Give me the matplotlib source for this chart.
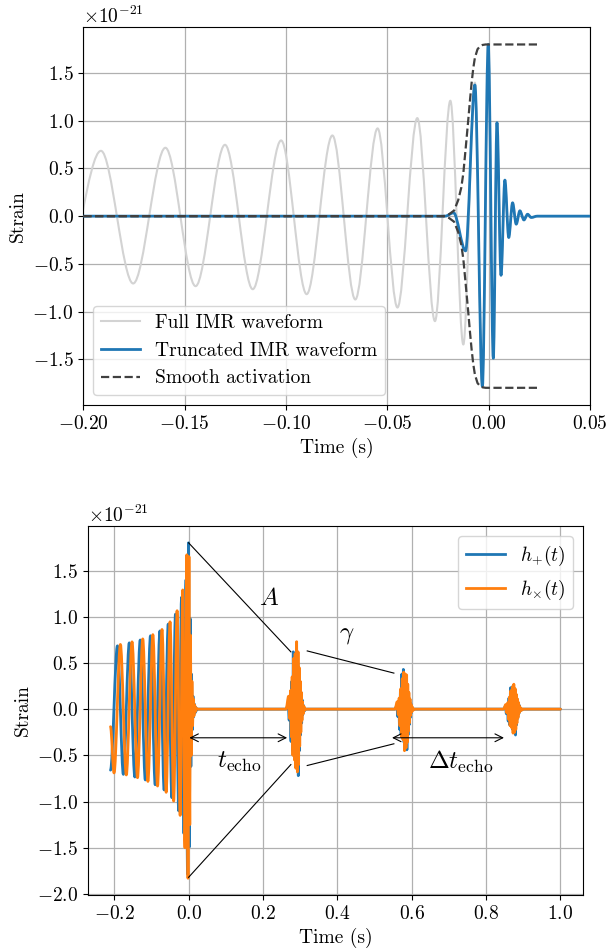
import numpy as np
import matplotlib
matplotlib.use('Agg')
import matplotlib.pyplot as plt
from matplotlib.path import Path
from matplotlib.patches import PathPatch
from matplotlib.lines import Line2D

plt.rcParams.update({
    'font.family': 'serif',
    'font.serif': ['cmr10'],
    'mathtext.fontset': 'cm',
    'axes.formatter.use_mathtext': True,
    'font.size': 14,
})

SCALE = 1e-21

# ---------------- data (strain in units of 1e-21, time in s) ----------------
# Full IMR waveform h+ : successive extrema
hp_main_t = [-0.2100, -0.1913, -0.1754, -0.1595, -0.1446, -0.1301, -0.1164, -0.1024,
             -0.0898, -0.0771, -0.0658, -0.0548, -0.0450, -0.0352, -0.0265, -0.0189,
             -0.0125, -0.0068, -0.0031, -0.0002, 0.0023, 0.0041, 0.0061, 0.0080,
             0.0099, 0.0118, 0.0136, 0.0154, 0.0174, 0.0192, 0.0210, 0.0240]
hp_main_v = [-0.66, 0.685, -0.706, 0.717, -0.734, 0.748, -0.766, 0.794,
             -0.818, 0.846, -0.874, 0.920, -0.958, 1.028, -1.101, 1.210,
             -1.346, 1.400, -1.784, 1.800, -1.490, 0.980, -0.620, 0.378,
             -0.224, 0.140, -0.084, 0.056, -0.040, 0.020, -0.014, 0.000]

# h_x : successive extrema
hx_main_t = [-0.2100, -0.2005, -0.1834, -0.1675, -0.1521, -0.1374, -0.1233, -0.1094,
             -0.0961, -0.0835, -0.0715, -0.0603, -0.0499, -0.0401, -0.0309, -0.0227,
             -0.0157, -0.0097, -0.0048, -0.0016, 0.0010, 0.0032, 0.0051, 0.0070,
             0.0090, 0.0108, 0.0127, 0.0145, 0.0164, 0.0183, 0.0201, 0.0240]
hx_main_v = [-0.19, -0.690, 0.700, -0.712, 0.728, -0.742, 0.760, -0.782,
             0.806, -0.832, 0.862, -0.900, 0.945, -0.995, 1.065, -1.150,
             1.290, -1.500, 1.670, -1.830, 1.650, -1.250, 0.800, -0.500,
             0.300, -0.180, 0.110, -0.070, 0.045, -0.025, 0.012, 0.000]

# Truncated IMR waveform (top panel)
tr_t = [-0.2000, -0.0215, -0.0173, -0.0114, -0.0068, -0.0031, -0.0002, 0.0023,
        0.0041, 0.0061, 0.0080, 0.0099, 0.0118, 0.0136, 0.0154, 0.0174,
        0.0192, 0.0210, 0.0240, 0.0500]
tr_v = [0.0, 0.0, 0.035, -0.364, 1.375, -1.784, 1.800, -1.490,
        0.980, -0.620, 0.378, -0.224, 0.140, -0.084, 0.056, -0.040,
        0.020, -0.014, 0.0, 0.0]

# Smooth activation envelope
act_t = [-0.2000, -0.0224, -0.0195, -0.0170, -0.0150, -0.0135, -0.0125, -0.0113,
         -0.0101, -0.0092, -0.0084, -0.0076, -0.0068, -0.0055, -0.0043, -0.0030,
         -0.0015, 0.0000, 0.0250]
act_v = [0.0, 0.0, 0.02, 0.06, 0.17, 0.30, 0.45, 0.72,
         1.00, 1.22, 1.40, 1.55, 1.66, 1.75, 1.78, 1.795,
         1.80, 1.80, 1.80]

# Echoes (extrema)
e1p_t = [0.2620, 0.2680, 0.2705, 0.2730, 0.2755, 0.2775, 0.2795, 0.2815, 0.2835, 0.2855,
         0.2875, 0.2895, 0.2915, 0.2935, 0.2950, 0.2965, 0.2980, 0.2995, 0.3010, 0.3025,
         0.3040, 0.3055, 0.3070, 0.3090, 0.3110, 0.3140]
e1p_v = [0.00, 0.05, -0.12, 0.12, -0.35, 0.30, -0.45, 0.62, -0.50, 0.55,
         -0.60, 0.58, -0.62, 0.50, -0.72, 0.40, -0.45, 0.30, -0.28, 0.18,
         -0.15, 0.10, -0.06, 0.04, -0.02, 0.00]
e1x_t = [0.2620, 0.2690, 0.2718, 0.2742, 0.2765, 0.2785, 0.2805, 0.2825, 0.2845, 0.2865,
         0.2885, 0.2905, 0.2925, 0.2943, 0.2958, 0.2973, 0.2988, 0.3003, 0.3018, 0.3033,
         0.3048, 0.3063, 0.3080, 0.3100, 0.3125, 0.3150]
e1x_v = [0.00, 0.14, -0.10, 0.20, -0.30, 0.35, -0.50, 0.55, -0.55, 0.60,
         -0.64, 0.73, -0.68, 0.62, -0.60, 0.45, -0.40, 0.30, -0.25, 0.18,
         -0.12, 0.08, -0.05, 0.03, -0.01, 0.00]

e2p_t = [0.5550, 0.5600, 0.5625, 0.5650, 0.5675, 0.5695, 0.5715, 0.5735, 0.5755, 0.5775,
         0.5795, 0.5815, 0.5835, 0.5855, 0.5870, 0.5885, 0.5900, 0.5915, 0.5930, 0.5945,
         0.5960, 0.5975, 0.5990, 0.6010, 0.6030, 0.6060]
e2p_v = [0.00, 0.04, -0.08, 0.08, -0.22, 0.20, -0.28, 0.38, -0.30, 0.43,
         -0.36, 0.35, -0.40, 0.30, -0.44, 0.25, -0.28, 0.18, -0.17, 0.11,
         -0.09, 0.06, -0.04, 0.02, -0.01, 0.00]
e2x_t = [0.5550, 0.5610, 0.5638, 0.5662, 0.5685, 0.5705, 0.5725, 0.5745, 0.5765, 0.5785,
         0.5805, 0.5825, 0.5845, 0.5863, 0.5878, 0.5893, 0.5908, 0.5923, 0.5938, 0.5953,
         0.5968, 0.5983, 0.6000, 0.6020, 0.6045, 0.6070]
e2x_v = [0.00, 0.08, -0.06, 0.12, -0.18, 0.22, -0.30, 0.33, -0.33, 0.40,
         -0.45, 0.38, -0.42, 0.37, -0.36, 0.27, -0.24, 0.18, -0.15, 0.11,
         -0.07, 0.05, -0.03, 0.02, -0.01, 0.00]

e3p_t = [0.8470, 0.8520, 0.8545, 0.8570, 0.8595, 0.8615, 0.8635, 0.8655, 0.8675, 0.8695,
         0.8715, 0.8735, 0.8755, 0.8775, 0.8790, 0.8805, 0.8820, 0.8835, 0.8850, 0.8865,
         0.8880, 0.8895, 0.8910, 0.8930, 0.8950, 0.8980]
e3p_v = [0.00, 0.03, -0.05, 0.05, -0.13, 0.12, -0.17, 0.23, -0.19, 0.24,
         -0.22, 0.22, -0.24, 0.19, -0.28, 0.15, -0.17, 0.11, -0.10, 0.07,
         -0.05, 0.04, -0.02, 0.01, -0.01, 0.00]
e3x_t = [0.8470, 0.8530, 0.8558, 0.8582, 0.8605, 0.8625, 0.8645, 0.8665, 0.8685, 0.8705,
         0.8725, 0.8745, 0.8765, 0.8783, 0.8798, 0.8813, 0.8828, 0.8843, 0.8858, 0.8873,
         0.8888, 0.8903, 0.8920, 0.8940, 0.8965, 0.8990]
e3x_v = [0.00, 0.05, -0.04, 0.07, -0.11, 0.13, -0.18, 0.20, -0.20, 0.24,
         -0.26, 0.27, -0.25, 0.22, -0.22, 0.16, -0.15, 0.11, -0.09, 0.07,
         -0.04, 0.03, -0.02, 0.01, -0.01, 0.00]

t_end = [1.0]
v_end = [0.0]

# annotation geometry (data coordinates)
A_line_t = [0.000, 0.275]
A_upper_v = [1.80, 0.62]
A_lower_v = [-1.82, -0.60]
g_line_t = [0.319, 0.552]
g_upper_v = [0.63, 0.39]
g_lower_v = [-0.61, -0.375]
techo_arrow_t = [0.002, 0.265]
dtecho_arrow_t = [0.547, 0.848]
arrow_v = -0.31


# ---------------- helpers ----------------
def smooth_path(t, v, k=1.0 / 3.0):
    """Cubic Bezier path through extrema with horizontal tangents."""
    v = [x * SCALE for x in v]
    verts = [(t[0], v[0])]
    codes = [Path.MOVETO]
    for i in range(len(t) - 1):
        dt = t[i + 1] - t[i]
        verts += [(t[i] + k * dt, v[i]), (t[i + 1] - k * dt, v[i + 1]), (t[i + 1], v[i + 1])]
        codes += [Path.CURVE4] * 3
    return Path(verts, codes)


def add_wave(ax, t, v, color, lw, zorder):
    patch = PathPatch(smooth_path(t, v), facecolor='none', edgecolor=color,
                      lw=lw, zorder=zorder, joinstyle='round', capstyle='round')
    ax.add_patch(patch)
    return patch


fig = plt.figure(figsize=(6.09, 9.48), dpi=100)

# ---------------- top panel ----------------
ax1 = fig.add_axes([0.1368, 0.5728, 0.8320, 0.3984])
full_t = hp_main_t + [0.0500]
full_v = hp_main_v + [0.0]
add_wave(ax1, full_t, full_v, '#d3d3d3', 1.5, 2)
add_wave(ax1, tr_t, tr_v, '#1f77b4', 2.0, 3)
ax1.plot(act_t, [a * SCALE for a in act_v], ls='--', color='#404040', lw=1.6, zorder=4)
ax1.plot(act_t, [-a * SCALE for a in act_v], ls='--', color='#404040', lw=1.6, zorder=4)
ax1.set_xlim(-0.2, 0.05)
ax1.autoscale_view(scalex=False, scaley=True)
ax1.grid(True, color='#b0b0b0', lw=0.9)
ax1.set_axisbelow(True)
ax1.set_xlabel('Time (s)')
ax1.set_ylabel('Strain')
handles1 = [Line2D([], [], color='#d3d3d3', lw=1.5),
            Line2D([], [], color='#1f77b4', lw=2.0),
            Line2D([], [], color='#404040', lw=1.6, ls='--')]
ax1.legend(handles1, ['Full IMR waveform', 'Truncated IMR waveform', 'Smooth activation'],
           loc='lower left', fontsize=14)

# ---------------- bottom panel ----------------
ax2 = fig.add_axes([0.1445, 0.0559, 0.8128, 0.3892])
hp_t = hp_main_t + e1p_t + e2p_t + e3p_t + t_end
hp_v = hp_main_v + e1p_v + e2p_v + e3p_v + v_end
hx_t = hx_main_t + e1x_t + e2x_t + e3x_t + t_end
hx_v = hx_main_v + e1x_v + e2x_v + e3x_v + v_end
add_wave(ax2, hp_t, hp_v, '#1f77b4', 2.0, 2)
add_wave(ax2, hx_t, hx_v, '#ff7f0e', 2.0, 3)
ax2.autoscale_view()
ax2.grid(True, color='#b0b0b0', lw=0.9)
ax2.set_axisbelow(True)
ax2.set_xlabel('Time (s)')
ax2.set_ylabel('Strain')

lk = dict(color='k', lw=0.8, zorder=5)
ax2.plot(A_line_t, [a * SCALE for a in A_upper_v], **lk)
ax2.plot(A_line_t, [a * SCALE for a in A_lower_v], **lk)
ax2.plot(g_line_t, [a * SCALE for a in g_upper_v], **lk)
ax2.plot(g_line_t, [a * SCALE for a in g_lower_v], **lk)
ap = dict(arrowstyle='<->', color='k', lw=0.8, shrinkA=0, shrinkB=0)
ax2.annotate('', xy=(techo_arrow_t[1], arrow_v * SCALE), xytext=(techo_arrow_t[0], arrow_v * SCALE),
             arrowprops=ap, zorder=5)
ax2.annotate('', xy=(dtecho_arrow_t[1], arrow_v * SCALE), xytext=(dtecho_arrow_t[0], arrow_v * SCALE),
             arrowprops=ap, zorder=5)
ax2.text(0.217, 1.19 * SCALE, r'$A$', fontsize=18, ha='center', va='center')
ax2.text(0.426, 0.80 * SCALE, r'$\gamma$', fontsize=18, ha='center', va='center')
ax2.text(0.136, -0.57 * SCALE, r'$t_{\rm echo}$', fontsize=18, ha='center', va='center')
ax2.text(0.731, -0.57 * SCALE, r'$\Delta t_{\rm echo}$', fontsize=18, ha='center', va='center')

handles2 = [Line2D([], [], color='#1f77b4', lw=2.0),
            Line2D([], [], color='#ff7f0e', lw=2.0)]
ax2.legend(handles2, [r'$h_{+}(t)$', r'$h_{\times}(t)$'], loc='upper right', fontsize=14)

fig.savefig('out.png', dpi=100)
